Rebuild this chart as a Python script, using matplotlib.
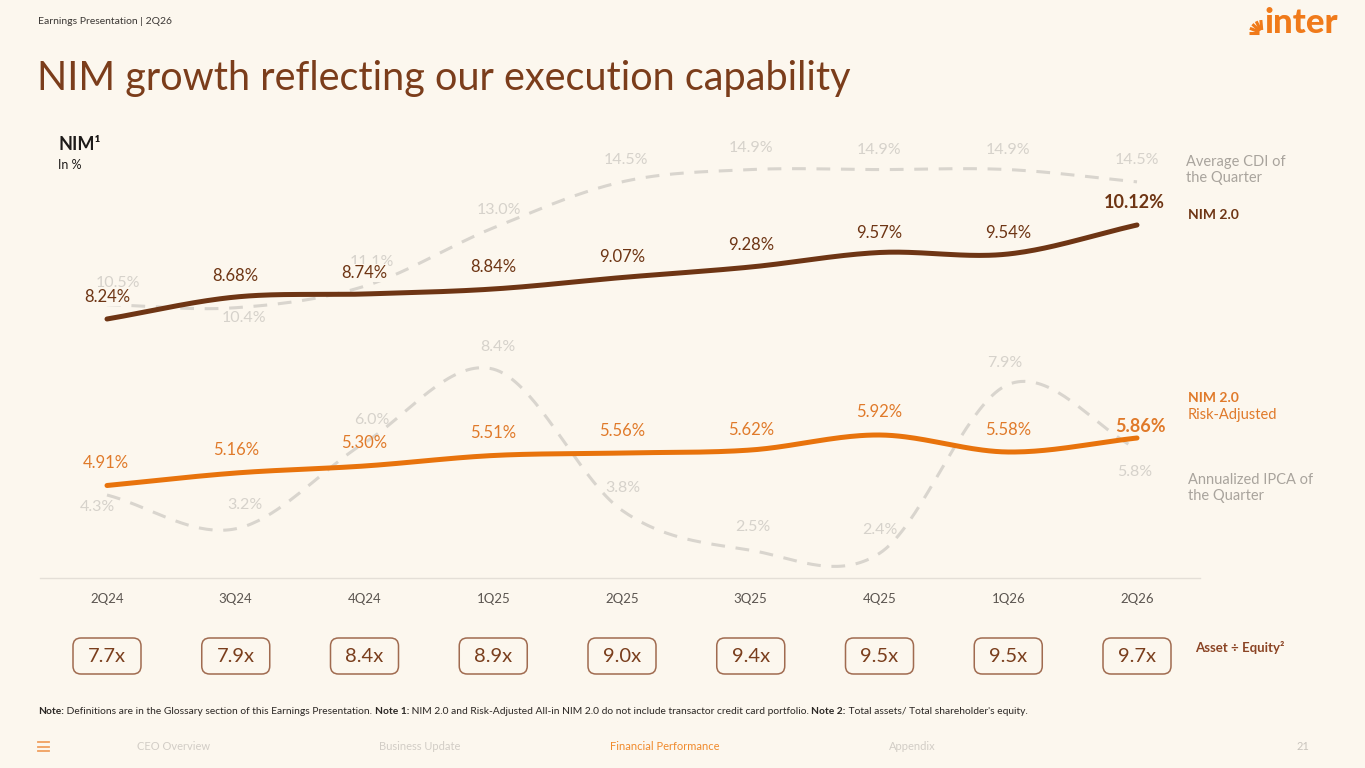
import matplotlib
matplotlib.use('Agg')
import matplotlib.pyplot as plt
import numpy as np
from matplotlib.patches import FancyBboxPatch
from matplotlib.lines import Line2D

# ---------------- data ----------------
quarters = ['2Q24', '3Q24', '4Q24', '1Q25', '2Q25', '3Q25', '4Q25', '1Q26', '2Q26']
nim = [8.24, 8.68, 8.74, 8.84, 9.07, 9.28, 9.57, 9.54, 10.12]
nim_ra = [4.91, 5.16, 5.30, 5.51, 5.56, 5.62, 5.92, 5.58, 5.86]
cdi = [10.5, 10.4, 11.1, 13.0, 14.5, 14.9, 14.9, 14.9, 14.5]
ipca = [4.3, 3.2, 6.0, 8.4, 3.8, 2.5, 2.4, 7.9, 5.8]
asset_equity = [7.7, 7.9, 8.4, 8.9, 9.0, 9.4, 9.5, 9.5, 9.7]

# ---------------- style ----------------
W, H = 1365, 768
BG = '#FCF7EE'
BROWN = '#6E3514'
ORANGE = '#E8730C'
GREY_LINE = '#D9D5CE'
GREY_LBL = '#D6D2CB'
TITLE_C = '#7B3D1B'
LEG_GREY = '#A9A49D'

plt.rcParams['font.family'] = ['Lato', 'DejaVu Sans']

# label offsets (pixels) per point
nim_off = [(0, 22), (0, 21), (0, 21), (0, 22), (0, 21), (0, 22), (0, 20), (0, 21), (-3, 22)]
ra_off = [(-1, 22), (0, 23), (0, 23), (0, 22), (0, 22), (0, 20), (0, 23), (0, 22), (3, 12)]
cdi_off = [(11, 22), (8, -10), (7, 24), (6, 18), (4, 22), (0, 22), (0, 20), (0, 20), (0, 22)]
ipca_off = [(-10, -12), (9, 24), (7, 23), (5, 22), (1, 22), (2, 23), (0, 23), (-3, 21), (-2, -23)]


def smooth(y, n=40):
    y = np.asarray(y, float)
    k = len(y)
    m = np.zeros(k)
    m[1:-1] = (y[2:] - y[:-2]) / 2.0
    m[0] = (y[1] - y[0])
    m[-1] = (y[-1] - y[-2])
    xs, ys = [], []
    for i in range(k - 1):
        t = np.linspace(0, 1, n, endpoint=(i == k - 2))
        h00 = 2 * t**3 - 3 * t**2 + 1
        h10 = t**3 - 2 * t**2 + t
        h01 = -2 * t**3 + 3 * t**2
        h11 = t**3 - t**2
        xs.append(i + t)
        ys.append(h00 * y[i] + h10 * m[i] + h01 * y[i + 1] + h11 * m[i + 1])
    return np.concatenate(xs), np.concatenate(ys)


def fx(px):
    return px / W


def fy(py):
    return 1 - py / H


fig = plt.figure(figsize=(W / 100, H / 100), dpi=100, facecolor=BG)

# ---------------- chart axes ----------------
x0_px, x1_px, ybot_px, ytop_px = 40, 1200, 578, 130
ax = fig.add_axes([fx(x0_px), fy(ybot_px), (x1_px - x0_px) / W, (ybot_px - ytop_px) / H])
ax.set_facecolor('none')
step = 128.75
xl = ((x0_px - 107) / step, (x1_px - 107) / step)
ax.set_xlim(*xl)
# grey series scale: zero at 627 px, 30.7 px per %
ax.set_ylim((627 - ybot_px) / 30.7, (627 - ytop_px) / 30.7)
ax2 = ax.twinx()
ax2.set_ylim((731 - ybot_px) / 50.0, (731 - ytop_px) / 50.0)
ax2.set_xlim(*xl)

for a in (ax, ax2):
    for s in a.spines.values():
        s.set_visible(False)
    a.set_yticks([])
ax.spines['bottom'].set_visible(True)
ax.spines['bottom'].set_color('#E4DFD7')
ax.spines['bottom'].set_linewidth(1.0)
ax.set_xticks(range(len(quarters)))
ax.set_xticklabels(quarters, fontsize=9.5, color='#5B5550')
ax.tick_params(axis='x', length=0, pad=11)
ax2.tick_params(axis='x', length=0)

xs = np.arange(len(quarters))

# grey dashed series
for series, offs in ((cdi, cdi_off), (ipca, ipca_off)):
    sx, sy = smooth(series)
    ax.plot(sx, sy, color=GREY_LINE, lw=2.2, dashes=(4.5, 3.5), solid_capstyle='butt', zorder=1)
    for i, v in enumerate(series):
        ax.annotate(f'{v:.1f}%', (xs[i], v), xytext=offs[i], textcoords='offset pixels',
                    ha='center', va='center', fontsize=11.5, color=GREY_LBL, zorder=2)

# NIM series
for series, offs, col in ((nim, nim_off, BROWN), (nim_ra, ra_off, ORANGE)):
    sx, sy = smooth(series)
    ax2.plot(sx, sy, color=col, lw=3.6, solid_capstyle='round', zorder=3)
    for i, v in enumerate(series):
        last = (i == len(series) - 1)
        ax2.annotate(f'{v:.2f}%', (xs[i], v), xytext=offs[i], textcoords='offset pixels',
                     ha='center', va='center', fontsize=13 if last else 12,
                     fontweight='bold' if last else 'normal',
                     color=col if col == BROWN else '#E07A2A', zorder=4,
                     bbox=dict(boxstyle='square,pad=0.05', fc=BG, ec='none') if col == BROWN else None)

# ---------------- asset / equity boxes ----------------
box_top, box_bot = 620, 690
axb = fig.add_axes([fx(x0_px), fy(box_bot), (x1_px - x0_px) / W, (box_bot - box_top) / H])
axb.set_facecolor('none')
axb.set_xlim(*xl)
axb.set_ylim(0, (box_bot - box_top) / step)
axb.axis('off')
bw, bh = 68 / step, 36 / step
yc = (box_bot - 656) / step
for i, v in enumerate(asset_equity):
    p = FancyBboxPatch((xs[i] - bw / 2, yc - bh / 2), bw, bh,
                       boxstyle='round,pad=0,rounding_size=%f' % (8 / step),
                       fc='none', ec='#A06B50', lw=1.1)
    axb.add_patch(p)
    axb.text(xs[i], yc, f'{v:.1f}x', ha='center', va='center', fontsize=14.5, color='#7A3E1D')

# ---------------- texts ----------------
fig.text(fx(38), fy(22), 'Earnings Presentation | 2Q26', fontsize=7.5, color='#3C3835', va='center')
fig.text(fx(37), fy(90), 'NIM growth reflecting our execution capability', fontsize=28.5,
         color=TITLE_C, va='baseline', fontweight='normal')
fig.text(fx(58), fy(144), 'NIM¹', fontsize=13, fontweight='bold', color='#1E1B19', va='center')
fig.text(fx(58), fy(165), 'In %', fontsize=9, color='#1E1B19', va='center')

fig.text(fx(1186), fy(170), 'Average CDI of\nthe Quarter', fontsize=10.5, color=LEG_GREY,
         va='center', linespacing=1.2)
fig.text(fx(1188), fy(215), 'NIM 2.0', fontsize=10, fontweight='bold', color=BROWN, va='center')
fig.text(fx(1188), fy(398), 'NIM 2.0', fontsize=10, fontweight='bold', color='#E07A2A', va='center')
fig.text(fx(1188), fy(415), 'Risk-Adjusted', fontsize=10.5, color='#E07A2A', va='center')
fig.text(fx(1188), fy(488), 'Annualized IPCA of\nthe Quarter', fontsize=10.5, color=LEG_GREY,
         va='center', linespacing=1.2)
fig.text(fx(1195), fy(648), 'Asset ÷ Equity²', fontsize=9.5, fontweight='bold', color='#8B4424', va='center')

# logo
fig.text(fx(1264), fy(23), 'inter', fontsize=25, fontweight='black', color='#F07A1A', va='center')
for k, ang in enumerate(np.linspace(95, 180, 5)):
    r0, r1 = 3, 13
    cx, cy = 1262, 33
    a = np.deg2rad(ang)
    fig.add_artist(Line2D([fx(cx + r0 * np.cos(a) * 1.0), fx(cx + r1 * np.cos(a))],
                          [fy(cy - r0 * np.sin(a)), fy(cy - r1 * np.sin(a))],
                          color='#F07A1A', lw=2.2, solid_capstyle='butt'))

# footnote with bold pieces
renderer = fig.canvas.get_renderer()
pieces = [('Note:', 'bold'), (' Definitions are in the Glossary section of this Earnings Presentation. ', 'normal'),
          ('Note 1:', 'bold'), (' NIM 2.0 and Risk-Adjusted All-in NIM 2.0 do not include transactor credit card portfolio. ', 'normal'),
          ('Note 2:', 'bold'), (" Total assets/ Total shareholder's equity.", 'normal')]
xcur = 38
for txt, wt in pieces:
    t = fig.text(fx(xcur), fy(711), txt, fontsize=7.35, fontweight=wt, color='#2B2724', va='center')
    bb = t.get_window_extent(renderer=renderer)
    xcur += bb.width

# nav bar
for j in range(3):
    fig.add_artist(Line2D([fx(38), fx(49)], [fy(742 + j * 4.5)] * 2, color='#F0A060', lw=1.3))
nav = [('CEO Overview', 174, '#D2CDC6'), ('Business Update', 420, '#D2CDC6'),
       ('Financial Performance', 665, '#F08A2C'), ('Appendix', 912, '#D2CDC6'), ('21', 1303, '#C9C4BD')]
for txt, xc, col in nav:
    fig.text(fx(xc), fy(746), txt, fontsize=8, color=col, ha='center', va='center')

fig.savefig('out.png', dpi=100, facecolor=BG)
